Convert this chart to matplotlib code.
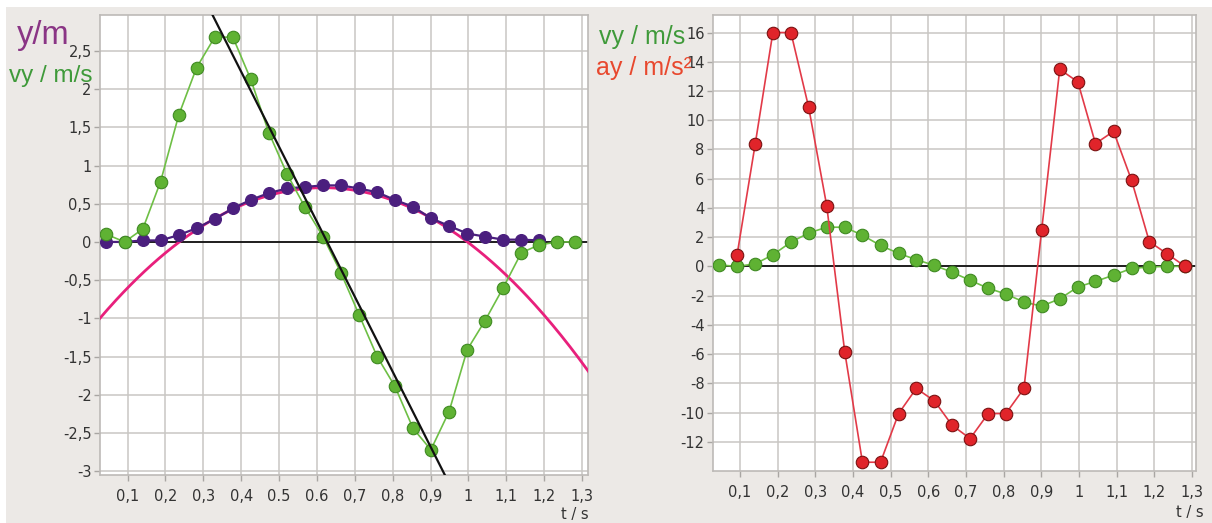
import matplotlib
matplotlib.use("Agg")
import matplotlib.pyplot as plt
import numpy as np
from matplotlib.patches import Rectangle

# ---------------- data ----------------
t = [0.044, 0.092, 0.140, 0.187, 0.235, 0.282, 0.330, 0.378, 0.425, 0.473,
     0.521, 0.568, 0.616, 0.663, 0.711, 0.759, 0.806, 0.854, 0.901, 0.949,
     0.997, 1.044, 1.092, 1.140, 1.187, 1.235, 1.282]

y_pos = [0.00, 0.00, 0.02, 0.02, 0.09, 0.18, 0.30, 0.44, 0.55, 0.64,
         0.70, 0.72, 0.74, 0.74, 0.70, 0.65, 0.55, 0.46, 0.31, 0.21,
         0.11, 0.07, 0.03, 0.03, 0.02]

vy = [0.10, 0.00, 0.17, 0.79, 1.66, 2.28, 2.68, 2.68, 2.13, 1.43,
      0.89, 0.46, 0.07, -0.40, -0.95, -1.50, -1.89, -2.44, -2.72, -2.22,
      -1.41, -1.03, -0.60, -0.14, -0.04, 0.00, 0.00]

ay = [0.8, 8.35, 16.0, 16.0, 10.9, 4.16, -5.86, -13.4, -13.4, -10.07,
      -8.35, -9.2, -10.87, -11.78, -10.07, -10.07, -8.35, 2.49, 13.48, 12.63,
      8.4, 9.24, 5.88, 1.69, 0.85, 0.0]
t_ay = t[1:]

# model curves (fit parameters)
g = 9.81
parab_t_peak = 0.617
parab_y_peak = 0.71
vline_t_zero = 0.627

x_ticks = [0.1, 0.2, 0.3, 0.4, 0.5, 0.6, 0.7, 0.8, 0.9, 1.0, 1.1, 1.2, 1.3]
x_labels_left = ['0,1', '0,2', '0,3', '0,4', '0.5', '0.6', '0,7', '0,8', '0,9', '1', '1,1', '1,2', '1,3']
x_labels_right = ['0,1', '0,2', '0,3', '0,4', '0,5', '0,6', '0,7', '0,8', '0,9', '1', '1,1', '1,2', '1,3']
y_ticks_left = [-3, -2.5, -2, -1.5, -1, -0.5, 0, 0.5, 1, 1.5, 2, 2.5]
y_labels_left = ['-3', '-2,5', '-2', '-1,5', '-1', '-0,5', '0', '0,5', '1', '1,5', '2', '2,5']
y_ticks_right = [-12, -10, -8, -6, -4, -2, 0, 2, 4, 6, 8, 10, 12, 14, 16]
y_labels_right = ['-12', '-10', '-8', '-6', '-4', '-2', '0', '2', '4', '6', '8', '10', '12', '14', '16']

# ---------------- style ----------------
W, H = 1212, 523
BG = '#ece9e6'
GRID = '#c9c6c3'
TICKC = '#333333'
GREEN = '#5fb233'
GREEN_E = '#3f8a22'
GREEN_L = '#6ebf45'
PURPLE = '#4b1f7e'
MAGENTA = '#e8207c'
RED = '#e0242a'
RED_E = '#7a1212'
RED_L = '#e23a48'

fig = plt.figure(figsize=(W / 100, H / 100), dpi=100)
fig.patch.set_facecolor('white')
fig.patches.append(Rectangle((6 / W, 0), 1, 1 - 7 / H, transform=fig.transFigure,
                             facecolor=BG, edgecolor='none', zorder=-10))


def px_axes(l, tp, r, b):
    return fig.add_axes([l / W, 1 - b / H, (r - l) / W, (b - tp) / H])


def style(ax, xlabels, yticks, ylabels):
    ax.set_facecolor('white')
    ax.set_xticks(x_ticks)
    ax.set_xticklabels(xlabels)
    ax.set_yticks(yticks)
    ax.set_yticklabels(ylabels)
    ax.grid(True, color=GRID, lw=1.1, zorder=0)
    for s in ax.spines.values():
        s.set_color('#bdbab7')
        s.set_linewidth(1.2)
    ax.tick_params(direction='out', length=4, width=1, color='#a9a6a3',
                   labelcolor=TICKC, labelsize=10.5, pad=6)
    ax.tick_params(axis='y', pad=2)
    ax.axhline(0, color='#111111', lw=1.3, zorder=2)


# ---------------- left chart ----------------
axL = px_axes(100, 15, 588, 475)
axL.set_xlim(0.027, 1.316)
axL.set_ylim(-3.05, 2.97)
style(axL, x_labels_left, y_ticks_left, y_labels_left)

tt = np.linspace(0.0, 1.4, 300)
axL.plot(tt, parab_y_peak - 0.5 * g * (tt - parab_t_peak) ** 2, color=MAGENTA, lw=2, zorder=3)
axL.plot(t[:len(y_pos)], y_pos, '-o', color=PURPLE, lw=1.6, ms=8.4,
         mfc=PURPLE, mec=PURPLE, zorder=4)
axL.plot(t, vy, '-o', color=GREEN_L, lw=1.2, ms=9.0, mfc=GREEN, mec=GREEN_E,
         mew=0.8, zorder=5)
axL.plot(tt, -g * (tt - vline_t_zero), color='#111111', lw=1.6, zorder=6)

fig.text(17 / W, 1 - 44 / H, 'y/m', color='#8a3585', fontsize=23.5, family='Liberation Sans')
fig.text(9 / W, 1 - 82 / H, 'vy / m/s', color='#3f9a3a', fontsize=17.5, family='Liberation Sans')
fig.text(575 / W, 1 - 519 / H, 't / s', color=TICKC, fontsize=10.5, ha='center')

# ---------------- right chart ----------------
axR = px_axes(713, 15, 1196, 471)
axR.set_xlim(0.028, 1.311)
axR.set_ylim(-14.0, 17.2)
style(axR, x_labels_right, y_ticks_right, y_labels_right)

axR.plot(t, vy, '-o', color=GREEN_L, lw=1.2, ms=9.0, mfc=GREEN, mec=GREEN_E,
         mew=0.8, zorder=4)
axR.plot(t_ay, ay, '-o', color=RED_L, lw=1.2, ms=9.0, mfc=RED, mec=RED_E,
         mew=0.8, zorder=5)

fig.text(599 / W, 1 - 44 / H, 'vy / m/s', color='#3f9a3a', fontsize=18, family='Liberation Sans')
fig.text(596 / W, 1 - 75 / H, 'ay / m/s²', color='#e8482e', fontsize=18, family='Liberation Sans')
fig.text(1190 / W, 1 - 517 / H, 't / s', color=TICKC, fontsize=10.5, ha='center')

fig.savefig('out.png', dpi=100, facecolor=fig.get_facecolor())
